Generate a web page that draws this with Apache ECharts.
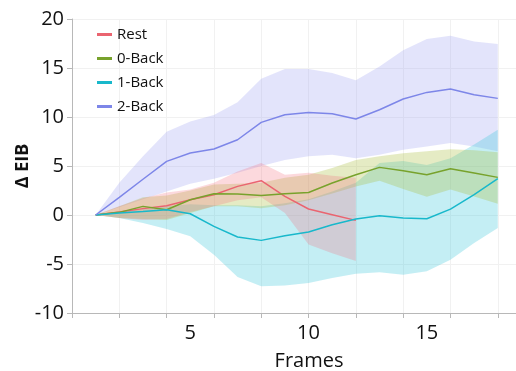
<!DOCTYPE html>
<html>
<head>
<meta charset="utf-8">
<script src="https://cdn.jsdelivr.net/npm/echarts@6/dist/echarts.min.js"></script>
<style>
html,body{margin:0;padding:0;background:#fff;}
#chart{width:516px;height:371px;}
</style>
</head>
<body>
<div id="chart"></div>
<script>
const frames = [1,2,3,4,5,6,7,8,9,10,11,12,13,14,15,16,17,18];

const rest      = [0, 0.3, 0.65, 0.95, 1.56, 2.07, 2.92, 3.5, 1.9, 0.61, 0.03, -0.55];
const restUpper = [0, 0.9, 1.7, 2.3, 2.6, 3.3, 4.45, 5.3, 4.1, 4.3, 4.0, 3.8];
const restLower = [0, -0.3, -0.5, -0.4, 0.3, 0.9, 1.5, 1.8, 0.2, -3.0, -3.9, -4.7];

const zeroBack  = [0, 0.27, 0.88, 0.54, 1.56, 2.17, 2.14, 2.0, 2.17, 2.3, 3.27, 4.11, 4.86, 4.52, 4.11, 4.72, 4.29, 3.84];
const zeroUpper = [0, 0.9, 1.8, 2.0, 2.5, 3.1, 3.2, 3.3, 3.8, 4.1, 4.8, 5.6, 6.0, 6.3, 6.5, 6.7, 6.6, 6.4];
const zeroLower = [0, -0.3, -0.4, -0.5, 0.2, 0.9, 0.9, 0.7, 1.0, 1.5, 2.2, 2.9, 3.5, 2.65, 1.85, 2.6, 1.9, 1.15];

const oneBack   = [0, 0.2, 0.35, 0.54, 0.13, -1.16, -2.24, -2.59, -2.11, -1.73, -0.99, -0.41, -0.07, -0.31, -0.38, 0.6, 2.07, 3.7];
const oneUpper  = [0, 0.3, 0.6, 0.9, 1.1, 1.0, 1.0, 0.9, 1.2, 1.6, 2.4, 3.3, 5.3, 5.5, 5.1, 5.8, 7.2, 8.7];
const oneLower  = [0, -0.3, -0.82, -1.43, -2.18, -4.05, -6.33, -7.28, -7.2, -6.94, -6.43, -5.99, -5.85, -6.09, -5.75, -4.56, -2.86, -1.33];

const twoBack   = [0, 1.8, 3.65, 5.47, 6.33, 6.73, 7.68, 9.45, 10.23, 10.47, 10.34, 9.8, 10.74, 11.84, 12.51, 12.86, 12.28, 11.9];
const twoUpper  = [0, 3.3, 6.0, 8.5, 9.55, 10.2, 11.5, 13.9, 14.9, 14.9, 14.5, 13.74, 15.16, 16.8, 17.96, 18.3, 17.7, 17.45];
const twoLower  = [0, 0.8, 1.6, 2.4, 3.2, 3.7, 4.3, 5.0, 5.6, 6.0, 6.15, 5.8, 6.15, 6.66, 7.0, 7.35, 7.0, 6.5];

const yTicks = [-10, -5, 0, 5, 10, 15, 20];
const xLabels = [5, 10, 15];

const groups = [
  {name:'Rest',   line:rest,     up:restUpper, lo:restLower, color:'#ea6470', fill:'rgba(245,110,125,0.26)'},
  {name:'0-Back', line:zeroBack, up:zeroUpper, lo:zeroLower, color:'#78a22c', fill:'rgba(170,190,60,0.30)'},
  {name:'1-Back', line:oneBack,  up:oneUpper,  lo:oneLower,  color:'#18b8cb', fill:'rgba(60,200,220,0.30)'},
  {name:'2-Back', line:twoBack,  up:twoUpper,  lo:twoLower,  color:'#7d86e8', fill:'rgba(150,155,240,0.27)'}
];

const pairs = (arr) => arr.map((v, i) => [frames[i], v]);

const series = [];
// confidence bands as one polygon each, placed through the axes' scales
groups.slice().reverse().forEach(g => {
  const n = g.up.length;
  series.push({
    name: g.name + ' band', type: 'custom', silent: true, z: 1,
    data: g.up.map((u, i) => [frames[i], g.lo[i], u]),
    encode: {x: 0, y: [1, 2]},
    renderItem: function (params, api) {
      if (params.dataIndex !== 0) return null;
      const pts = [];
      for (let i = 0; i < n; i++) pts.push(api.coord([frames[i], g.up[i]]));
      for (let i = n - 1; i >= 0; i--) pts.push(api.coord([frames[i], g.lo[i]]));
      return {type: 'polygon', shape: {points: pts}, style: {fill: g.fill, stroke: null}};
    }
  });
});
groups.forEach(g => {
  series.push({
    name: g.name, type: 'line', data: pairs(g.line), symbol: 'none',
    lineStyle: {color: g.color, width: 1.5}, itemStyle: {color: g.color}, z: 3
  });
});

const FONT = '"Open Sans", "Noto Sans", sans-serif';

const option = {
  animation: false,
  backgroundColor: '#fff',
  grid: {left: 72, right: 0, top: 19, bottom: 58, containLabel: false, outerBoundsMode: 'none'},
  legend: {
    data: groups.map(g => g.name),
    orient: 'vertical', left: 92, top: 22,
    icon: 'rect', itemWidth: 15, itemHeight: 3, itemGap: 9,
    textStyle: {fontFamily: FONT, fontSize: 15, color: '#111'}
  },
  xAxis: [
    {
      type: 'value', position: 'bottom', min: 0, max: 18.77, interval: 2,
      axisLine: {show: true, onZero: false, lineStyle: {color: '#b8b8b8'}},
      axisTick: {show: true, length: 5, lineStyle: {color: '#b8b8b8'}},
      axisLabel: {show: false},
      splitLine: {show: true, lineStyle: {color: '#f1f1f1'}}
    },
    {
      type: 'value', position: 'bottom', min: 0, max: 18.77, interval: 5,
      axisLine: {show: false, onZero: false}, axisTick: {show: false}, splitLine: {show: false},
      axisLabel: {
        show: true, margin: 10, fontFamily: FONT, fontSize: 20, color: '#111',
        formatter: v => (xLabels.indexOf(v) >= 0 ? String(v) : '')
      },
      name: 'Frames', nameLocation: 'middle', nameGap: 38, nameMoveOverlap: false,
      nameTextStyle: {fontFamily: FONT, fontSize: 20, color: '#111', padding: [0, 0, 0, 30]}
    }
  ],
  yAxis: {
    type: 'value', min: yTicks[0], max: yTicks[yTicks.length - 1], interval: 5,
    axisLine: {show: true, onZero: false, lineStyle: {color: '#b8b8b8'}},
    axisTick: {show: true, length: 5, lineStyle: {color: '#b8b8b8'}},
    axisLabel: {margin: 8, fontFamily: FONT, fontSize: 20, color: '#111'},
    splitLine: {show: true, lineStyle: {color: '#f1f1f1'}},
    name: 'Δ EIB', nameLocation: 'middle', nameRotate: 90, nameGap: 40, nameMoveOverlap: false,
    nameTextStyle: {fontFamily: FONT, fontSize: 18, fontWeight: 'bold', color: '#111'}
  },
  series: series
};

const chart = echarts.init(document.getElementById('chart'), null, {renderer: 'canvas'});
chart.setOption(option);
</script>
</body>
</html>
